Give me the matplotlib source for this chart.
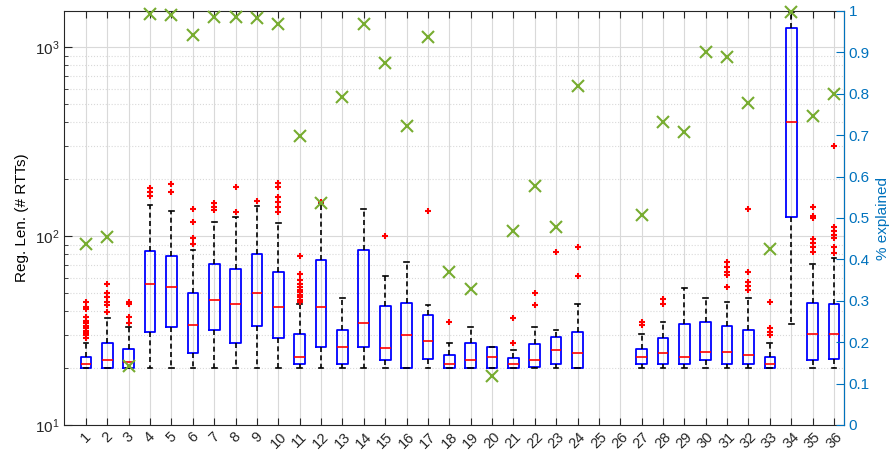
import numpy as np
import matplotlib.pyplot as plt
from matplotlib.ticker import LogLocator, NullFormatter

plt.rcParams['font.family'] = ['Liberation Sans', 'DejaVu Sans']

groups = list(range(1, 37))

# five-number summaries (None = empty group)
whislo = [20, 20, 20, 20, 20, 20, 20, 20, 20, 20, 20, 20, 20, 20, 20, 20, 20, 20,
          20, 20, 20, 20, 20, 20, None, None, 20, 20, 20, 20, 20, 20, 20, 34.1, 20, 20]
q1 = [20, 20, 20, 30.9, 33.1, 23.9, 31.8, 27.1, 33.4, 29.0, 21.0, 26.0, 21.0, 26.0, 22.0, 20, 22.3, 20,
      20, 20, 20, 20.3, 21.0, 20, None, None, 21.0, 21.0, 21.0, 22.0, 21.0, 21.0, 20, 126.5, 22.0, 22.3]
med = [21, 22, 21.5, 55.7, 53.9, 34.0, 45.9, 43.8, 49.7, 42.0, 23.0, 42.0, 26.0, 34.5, 25.5, 29.9, 27.9, 21.0,
       22.0, 23.0, 21.0, 22.0, 24.9, 23.9, None, None, 23.0, 23.9, 23.0, 24.4, 24.4, 23.5, 21.0, 402.5, 30.2, 30.2]
q3 = [23, 27.1, 25.3, 83.6, 78.7, 49.7, 70.8, 66.9, 80.6, 64.5, 30.2, 75.0, 31.7, 84.0, 42.5, 44.2, 38.2, 23.5,
      27.1, 26.0, 22.7, 26.7, 29.3, 30.9, None, None, 25.2, 29.0, 34.2, 34.9, 33.4, 31.8, 23.0, 1261, 44.0, 43.5]
whishi = [27.1, 37, 32.9, 145.8, 135.1, 84.0, 118.1, 126.5, 143.6, 117.7, 43.5, 148.9, 47.2, 138.5, 61.7, 72.8, 43.0, 27.1,
          33.0, 26.0, 24.9, 33.0, 31.9, 43.8, None, None, 30.2, 34.9, 53.1, 47.2, 44.9, 47.2, 27.1, 1540, 70.8, 76.1]
outliers = [
    [28.7, 29.9, 30.8, 31.6, 32.5, 33.5, 34.5, 35.6, 37.1, 40.9, 42.3, 44.9],
    [39.8, 43.1, 44.9, 47.7, 49.7, 55.7],
    [34.8, 37.1, 43.7, 44.9],
    [162.8, 171.6, 178.8],
    [170.3, 187.7],
    [90.7, 98.0, 118.6, 139.0],
    [137.3, 142.9, 148.9],
    [134.4, 181.1],
    [153.7],
    [134.4, 142.9, 151.8, 160.2, 181.1, 191.4],
    [45, 46, 47.5, 49, 50.5, 52, 54, 56, 58.5, 63.0, 78.7],
    [151.8],
    [],
    [],
    [99.6],
    [],
    [135.1],
    [34.9],
    [],
    [],
    [27.1, 37.0],
    [43.0, 49.9],
    [82.6],
    [61.7, 87.8],
    [],
    [],
    [33.8, 34.9],
    [43.7, 46.2],
    [],
    [],
    [53.9, 62.2, 64.8, 68.8, 73.0],
    [51.8, 54.5, 57.3, 64.8, 138.5],
    [29.9, 31.2, 32.5, 44.9],
    [],
    [82.1, 87.0, 92.2, 96.0, 125.0, 127.6, 141.9],
    [81.2, 87.8, 97.3, 101.4, 105.8, 112.0, 299],
]
pct_explained = [0.438, 0.455, 0.143, 0.993, 0.990, 0.943, 0.985, 0.985, 0.982, 0.968, 0.698, 0.537,
                 0.793, 0.969, 0.874, 0.722, 0.936, 0.370, 0.328, 0.119, 0.469, 0.578, 0.478, 0.820,
                 None, None, 0.507, 0.733, 0.707, 0.902, 0.890, 0.777, 0.426, 0.998, 0.747, 0.800]
pct_ticks = [0, 0.1, 0.2, 0.3, 0.4, 0.5, 0.6, 0.7, 0.8, 0.9, 1]

stats = []
pos = []
for i, g in enumerate(groups):
    if med[i] is None:
        continue
    stats.append(dict(whislo=whislo[i], q1=q1[i], med=med[i], q3=q3[i],
                      whishi=whishi[i], fliers=outliers[i]))
    pos.append(g)

dark = (0.15, 0.15, 0.15)
blue_ax = (0, 0.447, 0.741)
green = (0.466, 0.674, 0.188)

fig = plt.figure(figsize=(8.91, 4.54), dpi=100)
ax = fig.add_axes([64 / 891, 29 / 454, 780 / 891, 414 / 454])

ax.bxp(stats, positions=pos, widths=0.5, capwidths=0.22, manage_ticks=False,
       boxprops=dict(color='blue', linewidth=1.3),
       medianprops=dict(color='red', linewidth=1.2),
       whiskerprops=dict(color='black', linestyle=(0, (3, 2)), linewidth=1.2),
       capprops=dict(color='black', linewidth=1.2),
       flierprops=dict(marker='+', markeredgecolor='red', markersize=5, markeredgewidth=1.5))

ax.set_yscale('log')
ax.set_ylim(10, 1550)
ax.set_xlim(-0.03, 36.47)
ax.set_xticks(groups)
ax.set_xticklabels([str(g) for g in groups], rotation=45, ha='center', fontsize=10.5, color=dark)
ax.yaxis.set_major_locator(LogLocator(base=10))
ax.yaxis.set_minor_locator(LogLocator(base=10, subs=np.arange(2, 10)))
ax.yaxis.set_minor_formatter(NullFormatter())
ax.tick_params(axis='y', labelsize=11, colors=dark, direction='in', which='both')
ax.tick_params(axis='x', direction='in', top=True, length=5, colors=dark)
ax.tick_params(axis='y', which='major', length=6)
ax.tick_params(axis='y', which='minor', length=3)
ax.grid(True, axis='x', color=(0.85, 0.85, 0.85), linewidth=0.8)
ax.grid(True, axis='y', which='major', color=(0.85, 0.85, 0.85), linewidth=0.8)
ax.grid(True, axis='y', which='minor', color=(0.85, 0.85, 0.85), linestyle=':', linewidth=0.8)
ax.set_axisbelow(True)
ax.set_ylabel('Reg. Len. (# RTTs)', fontsize=11, color='black')
for s in ['left', 'bottom', 'top']:
    ax.spines[s].set_color(dark)

ax2 = ax.twinx()
pct = np.array([np.nan if p is None else p for p in pct_explained])
ax2.plot(groups, pct, 'x', color=green, markersize=9, markeredgewidth=1.5, clip_on=False)
ax2.set_ylim(0, 1)
ax2.set_yticks(pct_ticks)
ax2.set_yticklabels([('%g' % v) for v in pct_ticks])
ax2.tick_params(axis='y', colors=blue_ax, direction='in', labelsize=11, length=6)
ax2.spines['right'].set_color(blue_ax)
ax2.spines['left'].set_visible(False)
ax2.spines['top'].set_visible(False)
ax2.spines['bottom'].set_visible(False)
ax2.set_ylabel('% explained', fontsize=11, color=blue_ax)

plt.savefig('out.png', dpi=100)
